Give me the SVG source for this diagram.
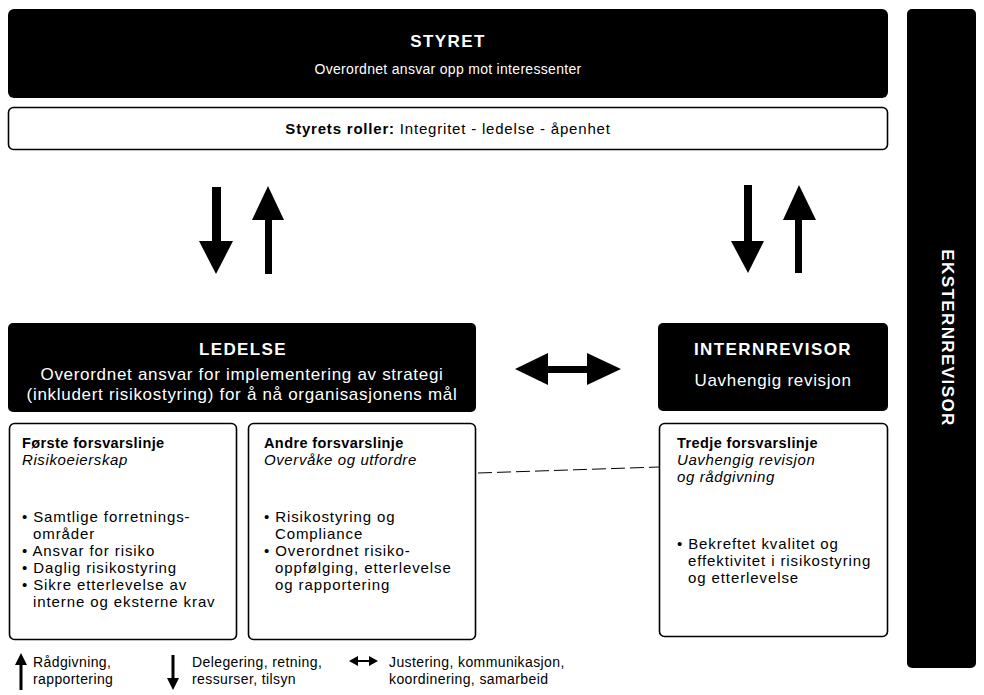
<svg xmlns="http://www.w3.org/2000/svg" width="984" height="695" viewBox="0 0 984 695">
<style>
text{font-family:"Liberation Sans",Arial,sans-serif;}
.dark{fill:#000;}
.box{fill:#fff;stroke:#000;stroke-width:1.6;}
.wt{fill:#fff;font-size:14px;text-anchor:middle;letter-spacing:0.3px;}
.wb{fill:#fff;font-size:17px;font-weight:bold;text-anchor:middle;letter-spacing:1.4px;}
.ws{fill:#fff;font-size:17px;text-anchor:middle;letter-spacing:0.7px;}
.h{font-size:14.5px;font-weight:bold;fill:#000;letter-spacing:0.4px;}
.i{font-size:15px;font-style:italic;fill:#000;letter-spacing:0.6px;}
.t{font-size:15px;fill:#000;letter-spacing:0.9px;}
.lg{font-size:14px;fill:#000;letter-spacing:0.4px;}
.arr{fill:#000;}
</style>
<g id="styret">
<rect class="dark" x="8" y="9" width="880" height="89" rx="6"/>
<text class="wb" x="448" y="47" letter-spacing="1">STYRET</text>
<text class="wt" x="448" y="74">Overordnet ansvar opp mot interessenter</text>
</g>
<g id="styrets-roller">
<rect class="box" x="8.5" y="107.5" width="879" height="42" rx="5"/>
<text x="448" y="134" text-anchor="middle" font-size="15" letter-spacing="0.8"><tspan font-weight="bold">Styrets roller:</tspan> Integritet - ledelse - åpenhet</text>
</g>
<g id="eksternrevisor">
<rect class="dark" x="907" y="9" width="69" height="659" rx="5"/>
<text class="wb" transform="translate(942,338) rotate(90)" letter-spacing="4">EKSTERNREVISOR</text>
</g>
<g id="ledelse">
<rect class="dark" x="8" y="323" width="468" height="89" rx="5"/>
<text class="wb" x="243" y="355" letter-spacing="1">LEDELSE</text>
<text class="ws" x="242" y="380">Overordnet ansvar for implementering av strategi</text>
<text class="ws" x="242" y="400">(inkludert risikostyring) for å nå organisasjonens mål</text>
</g>
<g id="internrevisor">
<rect class="dark" x="658" y="323" width="230" height="88" rx="5"/>
<text class="wb" x="773" y="355">INTERNREVISOR</text>
<text class="ws" x="773" y="386" font-size="15.5" letter-spacing="0.5">Uavhengig revisjon</text>
</g>
<g id="forste">
<rect class="box" x="9.5" y="423.5" width="227" height="216" rx="5"/>
<text class="h" x="22" y="448">Første forsvarslinje</text>
<text class="i" x="22" y="465">Risikoeierskap</text>
<text class="t" x="22" y="522">• Samtlige forretnings-</text>
<text class="t" x="33" y="539">områder</text>
<text class="t" x="22" y="556">• Ansvar for risiko</text>
<text class="t" x="22" y="573">• Daglig risikostyring</text>
<text class="t" x="22" y="590">• Sikre etterlevelse av</text>
<text class="t" x="33" y="607">interne og eksterne krav</text>
</g>
<g id="andre">
<rect class="box" x="248.5" y="423.5" width="227" height="216" rx="5"/>
<text class="h" x="264" y="448">Andre forsvarslinje</text>
<text class="i" x="264" y="465">Overvåke og utfordre</text>
<text class="t" x="264" y="522">• Risikostyring og</text>
<text class="t" x="275" y="539">Compliance</text>
<text class="t" x="264" y="556">• Overordnet risiko-</text>
<text class="t" x="275" y="573">oppfølging, etterlevelse</text>
<text class="t" x="275" y="590">og rapportering</text>
</g>
<g id="tredje">
<rect class="box" x="659.5" y="423.5" width="228" height="213" rx="5"/>
<text class="h" x="677" y="448">Tredje forsvarslinje</text>
<text class="i" x="677" y="465">Uavhengig revisjon</text>
<text class="i" x="677" y="482">og rådgivning</text>
<text class="t" x="677" y="549">• Bekreftet kvalitet og</text>
<text class="t" x="688" y="566">effektivitet i risikostyring</text>
<text class="t" x="688" y="583">og etterlevelse</text>
</g>
<g id="connectors">
<polygon class="arr" points="212,187 221,187 221,241 233,241 216,274 199,241 212,241"/>
<polygon class="arr" points="268,186 284,220 272,220 272,274 265,274 265,220 252,220"/>
<polygon class="arr" points="744,185 752,185 752,241 764,241 748,273 731,241 744,241"/>
<polygon class="arr" points="799,185 816,220 802,220 802,273 795,273 795,220 783,220"/>
<polygon class="arr" points="515,369 548,353 548,366 587,366 587,353 621,369 587,385 587,373 548,373 548,385"/>
<line x1="478" y1="473" x2="659" y2="467" stroke="#000" stroke-width="1" stroke-dasharray="14,5"/>
</g>
<g id="legend">
<polygon class="arr" points="21,653 27,665 22.5,665 22.5,690 19.5,690 19.5,665 15,665"/>
<text class="lg" x="33" y="667">Rådgivning,</text>
<text class="lg" x="33" y="684">rapportering</text>
<polygon class="arr" points="171.5,655 174.5,655 174.5,678 179,678 173,690 167,678 171.5,678"/>
<text class="lg" x="192" y="667">Delegering, retning,</text>
<text class="lg" x="192" y="684">ressurser, tilsyn</text>
<polygon class="arr" points="349,661 358,656 358,660 369,660 369,656 378,661 369,666 369,662 358,662 358,666"/>
<text class="lg" x="389" y="667">Justering, kommunikasjon,</text>
<text class="lg" x="389" y="684">koordinering, samarbeid</text>
</g>
</svg>
